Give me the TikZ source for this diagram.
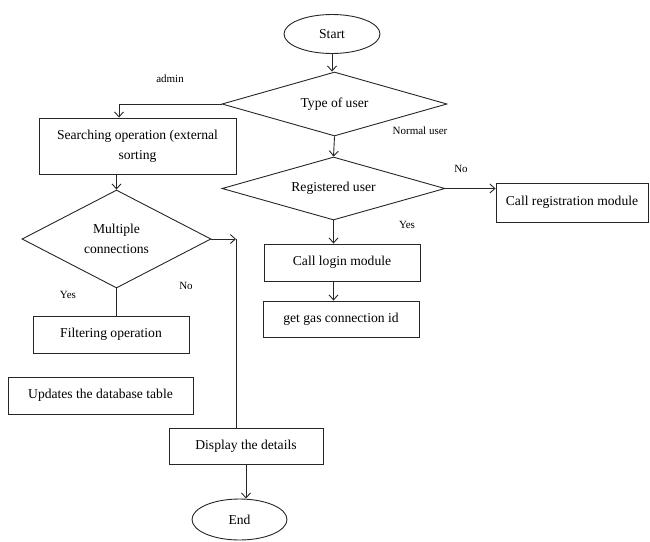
\documentclass[tikz,border=0pt]{standalone}
\usepackage{fontspec}
\setmainfont{Liberation Serif}
\usetikzlibrary{positioning}
\usetikzlibrary{shapes.geometric}
\usetikzlibrary{arrows.meta}
\tikzset{
    flowline/.style={draw=black!85, line width=0.9pt},
    flowbox/.style={flowline, rectangle, inner sep=0pt, minimum width=156pt, minimum height=37pt, font=\fontsize{13.6}{20}\selectfont, align=center},
    choice/.style={flowline, diamond, aspect=3.5, inner sep=0pt, font=\fontsize{13.6}{20}\selectfont, align=center},
    terminal/.style={flowline, ellipse, inner sep=0pt, minimum width=96pt, minimum height=39pt, font=\fontsize{13.6}{15}\selectfont},
    answer/.style={inner sep=0pt, font=\fontsize{11}{13}\selectfont},
    >={Straight Barb[length=5pt, width=9pt]}
}

\begin{document}
\begin{tikzpicture}[x=1pt, y=-1pt]
    \useasboundingbox (0,0) rectangle (650,541);

    \node [terminal] (start) at (332,34) {Start};
    \node [choice, minimum width=225pt, minimum height=64pt] (usertype) at (334.5,104) {Type of user};
    \node [choice, minimum width=223pt, minimum height=63pt] (registered) at (333.5,188.5) {Registered user};
    \node [flowbox, minimum width=152pt, minimum height=39pt] (regmodule) at (572,202.5) {Call registration module};
    \node [flowbox] (login) at (342,262.5) {Call login module};
    \node [flowbox, minimum height=36pt] (gasid) at (341,319) {get gas connection id};

    \draw[flowline, ->] (start.south) -- (start.south |- usertype.north);
    \draw[flowline, ->] (usertype.south) -- (registered.north);
    \node [answer] (normal) at (420,131) {Normal user};
    \draw[flowline, ->] (registered.east) -- (registered.east -| regmodule.west);
    \node [answer] (no1) at (461,169) {No};
    \draw[flowline, ->] (registered.south) -- (registered.south |- login.north);
    \node [answer] (yes1) at (407,225) {Yes};
    \draw[flowline, ->] (login.south -| registered.south) -- (gasid.north -| registered.south);

    %%%%%%

    \node [flowbox, minimum width=197pt, minimum height=56pt] (search) at (137.5,146) {Searching operation (external\\sorting};
    \node [choice, minimum width=189pt, minimum height=98pt] (multiple) at (116.5,239) {Multiple\\connections};
    \node [flowbox] (filter) at (111,334.5) {Filtering operation};
    \node [flowbox, minimum width=185pt] (update) at (100.5,395.5) {Updates the database table};

    \coordinate (adminturn) at (119,104);
    \draw[flowline, ->] (usertype.west) -- (adminturn) -- (adminturn |- search.north);
    \node [answer] (admin) at (170,79) {admin};
    \draw[flowline, ->] (search.south -| multiple.north) -- (multiple.north);
    \draw[flowline] (multiple.south) -- (multiple.south |- filter.north);
    \node [answer] (yes2) at (68,295) {Yes};

    %%%%%%

    \node [flowbox, minimum width=154pt, minimum height=36pt] (display) at (246,446) {Display the details};
    \node [terminal, minimum width=95pt, minimum height=41pt] (finish) at (239.5,519.5) {End};

    \coordinate (noturn) at (236,239);
    \draw[flowline, ->] (multiple.east) -- (noturn);
    \draw[flowline] (noturn) -- (noturn |- display.north);
    \node [answer] (no2) at (186,286) {No};
    \draw[flowline, ->] (display.south) -- (display.south |- finish.north);

\end{tikzpicture}
\end{document}
